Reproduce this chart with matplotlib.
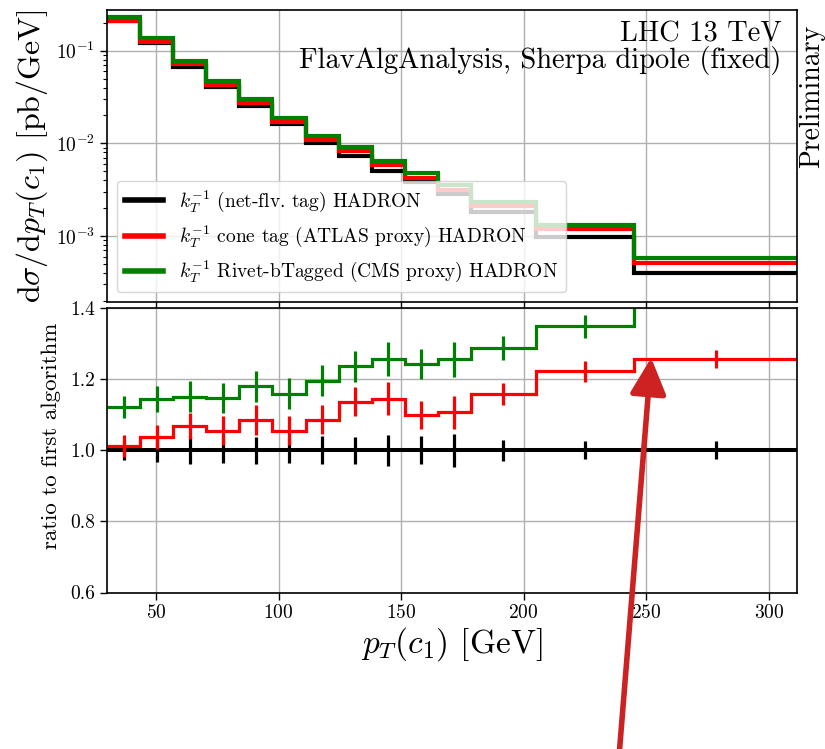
import numpy as np
import matplotlib; matplotlib.use("Agg")
import matplotlib.pyplot as plt

plt.rcParams.update({"font.family": "serif", "font.serif": ["cmr10"],
                     "mathtext.fontset": "cm", "axes.formatter.use_mathtext": True,
                     "axes.unicode_minus": False, "axes.axisbelow": True})

# pT(c1) bin edges [GeV]
edges = [30, 43.5, 57, 70.5, 84, 97.5, 111, 124.5, 138, 151.5, 165, 178.5, 205, 245, 312]
# first algorithm (net-flavour tag) cross section [pb/GeV]
xs_net = [0.207, 0.120, 0.0672, 0.0409, 0.0253, 0.0161, 0.0100, 0.00736,
          0.00508, 0.00384, 0.00282, 0.00183, 0.00097, 0.000403]
# ratios to first algorithm
ratio_cone = [1.011, 1.038, 1.069, 1.055, 1.084, 1.055, 1.086, 1.137,
              1.145, 1.100, 1.107, 1.158, 1.222, 1.257]
ratio_rivet = [1.122, 1.144, 1.151, 1.147, 1.180, 1.159, 1.196, 1.236,
               1.257, 1.243, 1.256, 1.288, 1.348, 1.44]
# statistical errors on the ratios
err_net = [0.028, 0.032, 0.040, 0.037, 0.038, 0.037, 0.039, 0.038, 0.043, 0.040, 0.046, 0.029, 0.025, 0.025]
err_cone = [0.031, 0.034, 0.037, 0.040, 0.042, 0.041, 0.041, 0.042, 0.046, 0.039, 0.046, 0.032, 0.030, 0.026]
err_rivet = [0.030, 0.036, 0.043, 0.042, 0.044, 0.043, 0.043, 0.043, 0.048, 0.043, 0.049, 0.034, 0.033, 0.030]

labels = [r"$k_T^{-1}$ (net-flv. tag) HADRON",
          r"$k_T^{-1}$ cone tag (ATLAS proxy) HADRON",
          r"$k_T^{-1}$ Rivet-bTagged (CMS proxy) HADRON"]
colors = ["#000000", "#ff0000", "#008000"]

edges = np.array(edges)
centers = 0.5 * (edges[1:] + edges[:-1])
xs_net = np.array(xs_net)
ratios = [xs_net / xs_net, np.array(ratio_cone), np.array(ratio_rivet)]
xsecs = [xs_net * r for r in ratios]
errs = [err_net, err_cone, err_rivet]

W, H = 825, 749
fig = plt.figure(figsize=(W / 100, H / 100), dpi=100)
ax1 = fig.add_axes([107 / W, 1 - 302 / H, 690 / W, 292 / H])
ax2 = fig.add_axes([107 / W, 1 - 592.5 / H, 690 / W, 284.5 / H])

for xs, c, lab in zip(xsecs, colors, labels):
    ax1.stairs(xs, edges, baseline=None, color=c, lw=3, label=lab, zorder=2)
ax1.set_yscale("log")
ax1.set_xlim(30, 311.5)
ax1.set_ylim(1.94e-4, 0.275)
ax1.tick_params(labelbottom=False)
ax1.grid(True, color="#b0b0b0", lw=1)
ax1.set_ylabel(r"$\mathrm{d}\sigma/\mathrm{d}p_T(c_1)$ [pb/GeV]", fontsize=23)
leg = ax1.legend(loc="lower left", fontsize=14, framealpha=0.8, handlelength=2.0)
for l in leg.get_lines():
    l.set_linewidth(4)
ax1.text(0.978, 0.962, "LHC 13 TeV\nFlavAlgAnalysis, Sherpa dipole (fixed)",
         transform=ax1.transAxes, ha="right", va="top", fontsize=20.5,
         multialignment="right", linespacing=0.95)
ax1.text(1.002, 0.95, "Preliminary", transform=ax1.transAxes, rotation=90,
         ha="left", va="top", fontsize=20)

for r, e, c in zip(ratios, errs, colors):
    ax2.stairs(r, edges, baseline=None, color=c, lw=2.9 if c == "#000000" else 2.3, zorder=2)
    ax2.errorbar(centers, r, yerr=e, fmt="none", ecolor=c, elinewidth=2.3, zorder=2)
ax2.set_xlim(30, 311.5)
ax2.set_ylim(0.6, 1.4)
ax2.set_yticks([0.6, 0.8, 1.0, 1.2, 1.4])
ax2.set_xticks([50, 100, 150, 200, 250, 300])
ax2.yaxis.set_major_formatter(plt.FormatStrFormatter("%.1f"))
ax2.grid(True, color="#b0b0b0", lw=1)
ax2.set_ylabel("ratio to first algorithm", fontsize=16.5)
ax2.yaxis.set_label_coords(-0.066, 0.55)
ax2.set_xlabel(r"$p_T(c_1)$ [GeV]", fontsize=24, labelpad=2)

for ax in (ax1, ax2):
    ax.tick_params(which="major", labelsize=14, length=5, width=1)
    ax.tick_params(which="minor", length=3, width=0.8)
    for s in ax.spines.values():
        s.set_linewidth(1.2)

ax2.annotate("", xy=(252, 1.26), xycoords="data",
             xytext=(619 / W, -0.01), textcoords="figure fraction",
             annotation_clip=False,
             arrowprops=dict(arrowstyle="-|>,head_length=1.0,head_width=0.5",
                             mutation_scale=22, color="#cc2222", lw=4, shrinkA=0, shrinkB=0))

fig.savefig("out.png", dpi=100)
